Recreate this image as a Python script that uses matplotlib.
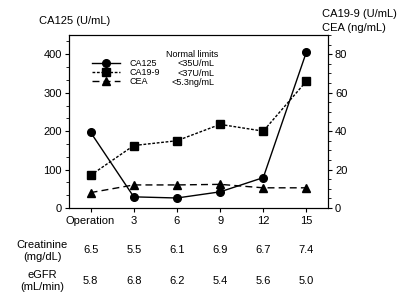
import matplotlib
matplotlib.use("Agg")
import matplotlib.pyplot as plt
from matplotlib.ticker import AutoMinorLocator, MultipleLocator
from matplotlib.transforms import blended_transform_factory

plt.rcParams['font.family'] = ['Liberation Sans', 'DejaVu Sans']

timepoints = ["Operation", "3", "6", "9", "12", "15"]
ca125 = [197, 29, 26, 42, 79, 406]
ca199 = [17, 32.5, 35, 43.5, 40, 66]
cea = [8, 12, 12, 12.3, 10.5, 10.5]
creatinine = ["6.5", "5.5", "6.1", "6.9", "6.7", "7.4"]
egfr = ["5.8", "6.8", "6.2", "5.4", "5.6", "5.0"]
limits = ["<35U/mL", "<37U/mL", "<5.3ng/mL"]
names = ["CA125", "CA19-9", "CEA"]

fig = plt.figure(figsize=(4.0, 2.97), dpi=100)
ax = fig.add_axes([0.1725, 0.2997, 0.6475, 0.5823])
ax2 = ax.twinx()

x = list(range(len(timepoints)))
l1, = ax.plot(x, ca125, color='black', lw=1.0, marker='o', ms=5.5, ls='-')
l2, = ax2.plot(x, ca199, color='black', lw=1.0, marker='s', ms=5.5, ls=(0, (2, 1.2)))
l3, = ax2.plot(x, cea, color='black', lw=1.0, marker='^', ms=5.5, ls=(0, (5, 3)))

ax.set_xlim(-0.5, 5.5)
ax.set_ylim(0, 450)
ax2.set_ylim(0, 90)
ax.set_xticks(x)
ax.set_xticklabels(timepoints, fontsize=8)
ax.yaxis.set_major_locator(MultipleLocator(100))
ax.yaxis.set_minor_locator(AutoMinorLocator(3))
ax2.yaxis.set_major_locator(MultipleLocator(20))
ax2.yaxis.set_minor_locator(AutoMinorLocator(4))
for a in (ax, ax2):
    a.tick_params(axis='both', which='major', direction='out', length=3, width=0.8, labelsize=8, pad=2)
    a.tick_params(axis='both', which='minor', direction='out', length=2, width=0.6)
    for s in a.spines.values():
        s.set_linewidth(0.8)
ax.tick_params(axis='x', pad=3)

fig.text(39/400, 1 - 21/297, "CA125 (U/mL)", fontsize=8, ha='left', va='center')
fig.text(322/400, 1 - 14/297, "CA19-9 (U/mL)", fontsize=8, ha='left', va='center')
fig.text(322/400, 1 - 28/297, "CEA (ng/mL)", fontsize=8, ha='left', va='center')

# legend
leg = ax.legend([l1, l2, l3], names, loc='upper left',
                bbox_to_anchor=((92 - 69)/259, 1 - (59 - 35)/173), frameon=False, fontsize=6.5,
                handlelength=3.1, handletextpad=1.1, labelspacing=0.0,
                borderpad=0, borderaxespad=0)
fig.text(218/400, 1 - 55/297, "Normal limits", fontsize=6.5, ha='right', va='center')
for i, lim in enumerate(limits):
    fig.text(214/400, 1 - (64 + 9 * i)/297, lim, fontsize=6.5, ha='right', va='center')

# table below
tr = blended_transform_factory(ax.transData, fig.transFigure)
fig.text(42/400, 1 - 251/297, "Creatinine\n(mg/dL)", fontsize=8, ha='center', va='center', linespacing=1.2)
fig.text(42/400, 1 - 281/297, "eGFR\n(mL/min)", fontsize=8, ha='center', va='center', linespacing=1.2)
for xi, c, e in zip(x, creatinine, egfr):
    ax.text(xi, 1 - 250/297, c, transform=tr, fontsize=8, ha='center', va='center')
    ax.text(xi, 1 - 281/297, e, transform=tr, fontsize=8, ha='center', va='center')

fig.savefig("out.png", dpi=100)
